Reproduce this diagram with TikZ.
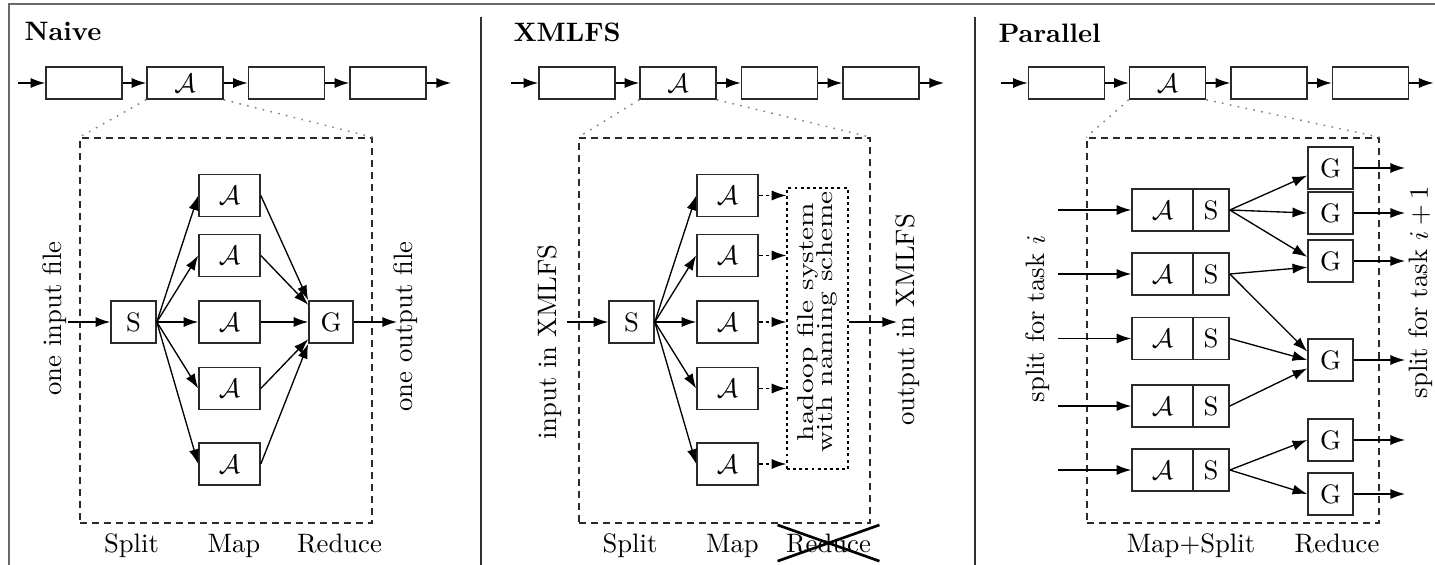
\documentclass[tikz,border=0pt]{standalone}
\usepackage{graphicx}
\usetikzlibrary{arrows.meta}
\newdimen\pxu \pxu=0.375pt
\definecolor{framegray}{HTML}{6A6A6A}
\definecolor{divgray}{HTML}{303030}
\definecolor{boxgray}{HTML}{2A2A2A}
\begin{document}
\begin{tikzpicture}[x=0.375pt,y=-0.375pt,
  box/.style={draw=boxgray, line width=0.6pt, minimum height=42\pxu, inner sep=0pt},
  abox/.style={box, minimum width=61\pxu},
  sbox/.style={box, minimum width=45\pxu},
  gbox/.style={box, minimum width=45\pxu},
  cbox/.style={draw=boxgray, line width=0.6pt, minimum width=76\pxu, minimum height=32\pxu, inner sep=0pt},
  dbox/.style={draw=boxgray, line width=0.55pt, dash pattern=on 2.6pt off 1.9pt, minimum height=385\pxu, inner sep=0pt},
  hdbox/.style={draw=black, line width=0.5pt, dash pattern=on 1.1pt off 1.2pt, minimum width=61\pxu, minimum height=281\pxu, inner sep=0pt},
  arr/.style={-{Latex[length=5.5pt,width=3.8pt]}, line width=0.5pt},
  dotl/.style={draw=gray, line width=0.55pt, dash pattern=on 0.6pt off 2.4pt},
  lbl/.style={anchor=base},
  rlbl/.style={rotate=90},
  ttl/.style={anchor=base west, inner sep=0pt, font=\bfseries}]
\useasboundingbox (0,0) rectangle (1435,565);
% frame
\draw[framegray, line width=0.6pt] (1435,4) -- (9,4) -- (9,565);
\draw[divgray, line width=0.55pt] (481,17) -- (481,565);
\draw[divgray, line width=0.55pt] (975,17) -- (975,565);
% titles
\node[ttl] (tn) at (24,41) {Naive};
\node[ttl] (tx) at (513,42) {XMLFS};
\node[ttl] (tp) at (998,43) {Parallel};
% chains
\foreach \p/\ox/\dx/\dw in {n/0/226/292, x/493/724.5/291, p/982.5/1233/292}{
  \coordinate (\p cin) at (\ox+18,83);
  \coordinate (\p cout) at (\ox+451,83);
  \node[cbox] (\p c1) at (\ox+84,83) {};
  \node[cbox] (\p c2) at (\ox+185,83) {$\mathcal{A}$};
  \node[cbox] (\p c3) at (\ox+286.5,83) {};
  \node[cbox] (\p c4) at (\ox+388,83) {};
  \draw[arr] (\p cin) -- (\p c1);
  \draw[arr] (\p c1) -- (\p c2);
  \draw[arr] (\p c2) -- (\p c3);
  \draw[arr] (\p c3) -- (\p c4);
  \draw[arr] (\p c4) -- (\p cout);
  \node[dbox, minimum width=\dw\pxu] (\p d) at (\dx,330.5) {};
  \draw[dotl] (\p c2.south west) -- (\p d.north west);
  \draw[dotl] (\p c2.south east) -- (\p d.north east);
}
% ---------------- Naive
\node[sbox] (ns) at (133.5,322) {S};
\node[abox] (na1) at (229.5,195.5) {$\mathcal{A}$};
\node[abox] (na2) at (229.5,255.5) {$\mathcal{A}$};
\node[abox] (na3) at (229.5,322) {$\mathcal{A}$};
\node[abox] (na4) at (229.5,388.5) {$\mathcal{A}$};
\node[abox] (na5) at (229.5,464) {$\mathcal{A}$};
\node[gbox, minimum width=44\pxu] (ng) at (331,322) {G};
\coordinate (nin) at (68,322);
\coordinate (nout) at (397,322);
\draw[arr] (nin) -- (ns);
\foreach \i in {1,...,5}{\draw[arr] (ns.east) -- (na\i.west);}
\draw[arr] (na1.east) -- (ng.north west);
\draw[arr] (na2.east) -- (ng.143);
\draw[arr] (na3.east) -- (ng.west);
\draw[arr] (na4.east) -- (ng.217);
\draw[arr] (na5.east) -- (ng.south west);
\draw[arr] (ng) -- (nout);
\node[rlbl] (nlin) at (55,318.5) {one input file};
\node[rlbl] (nlout) at (406,326.5) {one output file};
\node[lbl] (nl1) at (131.5,552) {Split};
\node[lbl] (nl2) at (234,552) {Map};
\node[lbl] (nl3) at (339.5,552) {Reduce};
% ---------------- XMLFS
\node[sbox] (xs) at (631.5,322) {S};
\node[abox] (xa1) at (727.5,195.5) {$\mathcal{A}$};
\node[abox] (xa2) at (727.5,255.5) {$\mathcal{A}$};
\node[abox] (xa3) at (727.5,322) {$\mathcal{A}$};
\node[abox] (xa4) at (727.5,388.5) {$\mathcal{A}$};
\node[abox] (xa5) at (727.5,464) {$\mathcal{A}$};
\node[hdbox] (xh) at (817.5,328.5) {};
\node[rotate=90, inner sep=0pt] (xht) at (817.5,322) {\scalebox{1.1}[0.86]{\begin{tabular}{@{}c@{}}hadoop file system\\[-3.5pt]with naming scheme\end{tabular}}};
\coordinate (xin) at (567,322);
\coordinate (xout) at (897,322);
\draw[arr] (xin) -- (xs);
\foreach \i in {1,...,5}{
  \draw[arr] (xs.east) -- (xa\i.west);
  \draw[arr, dash pattern=on 1.4pt off 1.2pt] (xa\i.east) -- (xa\i.east -| xh.west);
}
\draw[arr] (xout -| xh.east) -- (xout);
\node[rlbl] (xlin) at (550,342) {input in XMLFS};
\node[rlbl] (xlout) at (908,320) {output in XMLFS};
\node[lbl] (xl1) at (630,552) {Split};
\node[lbl] (xl2) at (732.5,552) {Map};
\node[lbl, inner sep=3pt] (xl3) at (828.5,552) {Reduce};
\draw[line width=1pt] (xl3.south west) -- (xl3.north east);
\draw[line width=1pt] (xl3.north west) -- (xl3.south east);
% ---------------- Parallel
\foreach \i/\y in {1/210, 2/274, 3/338.5, 4/406, 5/470}{
  \node[abox] (pa\i) at (1162.5,\y) {$\mathcal{A}$};
  \node[box, minimum width=36\pxu] (ps\i) at (1211,\y) {S};
  \coordinate (pin\i) at (1058,\y);
  \draw[arr] (pin\i) -- (pa\i);
}
\foreach \j/\y in {1/168, 2/213, 3/261, 4/360, 5/440, 6/494}{
  \node[gbox] (pg\j) at (1330.5,\y) {G};
  \coordinate (pout\j) at (1405,\y);
  \draw[arr] (pg\j) -- (pout\j);
}
\draw[arr] (ps1.east) -- (pg1.198);
\draw[arr] (ps1.east) -- (pg2.west);
\draw[arr] (ps1.east) -- (pg3.170);
\draw[arr] (ps2.east) -- (pg3.195);
\draw[arr] (ps2.east) -- (pg4.160);
\draw[arr] (ps3.east) -- (pg4.west);
\draw[arr] (ps4.east) -- (pg4.200);
\draw[arr] (ps5.east) -- (pg5.west);
\draw[arr] (ps5.east) -- (pg6.west);
\node[rlbl] (plin) at (1038,319) {split for task $i$};
\node[rlbl] (plout) at (1421,292) {split for task $i+1$};
\node[lbl] (pl1) at (1191,552) {Map+Split};
\node[lbl] (pl2) at (1337,552) {Reduce};
\end{tikzpicture}
\end{document}
